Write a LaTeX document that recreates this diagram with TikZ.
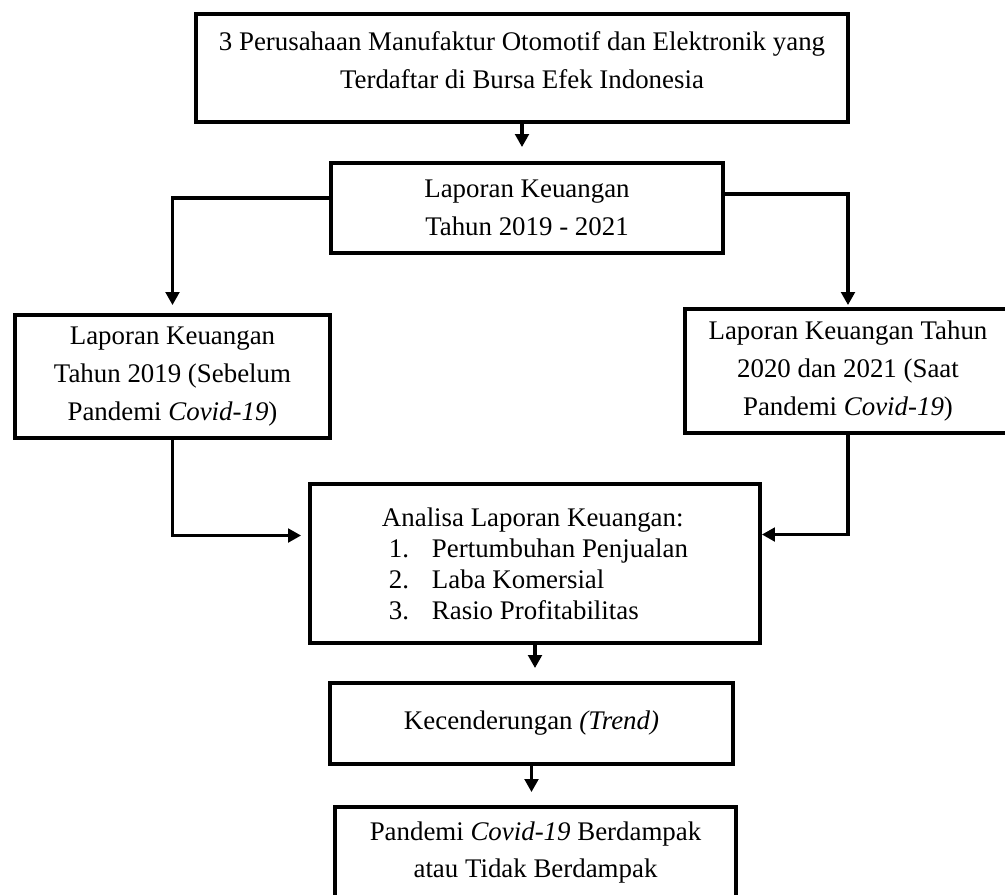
\documentclass[tikz,border=0pt]{standalone}
\usepackage{fontspec}
\setmainfont{Liberation Serif}
\usepackage{tikz}
\usetikzlibrary{arrows.meta,positioning,calc}

\tikzset{
    box/.style={draw,line width=2.2pt,align=center,inner sep=0pt,font=\fontsize{15.3}{21.4}\selectfont},
    arr/.style={line width=1.9pt,-{Triangle[length=0.26cm,width=0.27cm]}}
}

\begin{document}
\begin{tikzpicture}[x=0.02cm,y=-0.02cm]
    \useasboundingbox (0,0) rectangle (1005,894);

    % Top: companies and reports
    \node[box,minimum width=13.04cm,minimum height=2.16cm,text depth=0.32cm] (perusahaan) at (522,68)
        {3 Perusahaan Manufaktur Otomotif dan Elektronik yang\\Terdaftar di Bursa Efek Indonesia};
    \node[box,minimum width=7.84cm,minimum height=1.8cm] (laporan) at (527,208)
        {Laporan Keuangan\\Tahun 2019 - 2021};

    % Before / during pandemic
    \node[box,minimum width=6.3cm,minimum height=2.46cm] (sebelum) at (172.5,376.5)
        {Laporan Keuangan\\Tahun 2019 (Sebelum\\Pandemi \textit{Covid-19})};
    \node[box,minimum width=6.52cm,minimum height=2.48cm] (saat) at (848,371)
        {Laporan Keuangan Tahun\\2020 dan 2021 (Saat\\Pandemi \textit{Covid-19})};

    % Analysis
    \node[box,align=left,font=\fontsize{15.3}{17.6}\selectfont,minimum width=9cm,minimum height=3.18cm] (analisa) at (535,563.5)
        {Analisa Laporan Keuangan:\\
         \hspace*{0.14cm}\makebox[0.86cm][l]{1.}Pertumbuhan Penjualan\\
         \hspace*{0.14cm}\makebox[0.86cm][l]{2.}Laba Komersial\\
         \hspace*{0.14cm}\makebox[0.86cm][l]{3.}Rasio Profitabilitas};

    % Result
    \node[box,minimum width=8.06cm,minimum height=1.62cm] (trend) at (531.5,723.5)
        {Kecenderungan \textit{(Trend)}};
    \node[box,minimum width=8.02cm,minimum height=1.82cm] (dampak) at (535.5,852.5)
        {Pandemi \textit{Covid-19} Berdampak\\atau Tidak Berdampak};

    % Connections
    \draw[arr,shorten >=0.28cm] (perusahaan.south) -- (perusahaan.south |- laporan.north);
    \draw[arr,shorten >=0.16cm] ([yshift=0.2cm]laporan.west) -| (sebelum.north);
    \draw[arr,shorten >=0.04cm] ([yshift=0.28cm]laporan.east) -| (saat.north);
    \draw[arr,shorten >=0.14cm] (sebelum.south) |- ([yshift=0.56cm]analisa.west);
    \draw[arr] (saat.south) |- ([yshift=0.58cm]analisa.east);
    \draw[arr,shorten >=0.26cm] (analisa.south) -- (analisa.south |- trend.north);
    \draw[arr,shorten >=0.26cm] (trend.south) -- (trend.south |- dampak.north);
\end{tikzpicture}
\end{document}
